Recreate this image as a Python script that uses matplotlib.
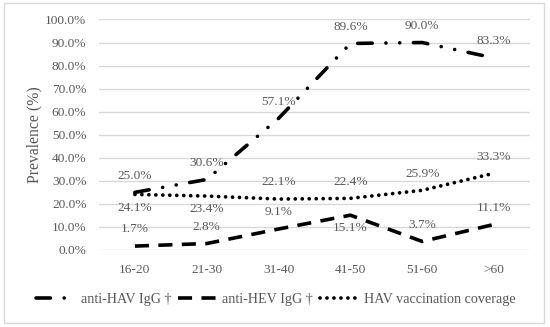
import numpy as np
import matplotlib
matplotlib.use("Agg")
import matplotlib.pyplot as plt
from matplotlib.patches import Rectangle

age_groups = ["16-20", "21-30", "31-40", "41-50", "51-60", ">60"]
anti_hav = [25.0, 30.6, 57.1, 89.6, 90.0, 83.3]
anti_hev = [1.7, 2.8, 9.1, 15.1, 3.7, 11.1]
hav_vacc = [24.1, 23.4, 22.1, 22.4, 25.9, 33.3]

# label above (+1) or below (-1) the point
hav_side = [1, 1, 1, 1, 1, 1]
hev_side = [1, 1, 1, -1, 1, 1]
vacc_side = [-1, -1, 1, 1, 1, 1]

grey = "#595959"
plt.rcParams["font.family"] = ["Liberation Serif", "DejaVu Serif"]
plt.rcParams["font.size"] = 9.6

fig = plt.figure(figsize=(5.5, 3.27), dpi=100)
ax = fig.add_axes([0.18, 0.2355, 0.7836, 0.7049])

xs = np.arange(len(age_groups))
ax.plot(xs, anti_hav, color="black", lw=2.6, dash_capstyle="round",
        linestyle=(0, (4, 3.8, 0.01, 3.8, 0.01, 3.8)), label="anti-HAV IgG †")
ax.plot(xs, anti_hev, color="black", lw=2.6, dash_capstyle="butt",
        linestyle=(0, (3.9, 2.6)), label="anti-HEV IgG †")
ax.plot(xs, hav_vacc, color="black", lw=2.7, dash_capstyle="round",
        linestyle=(0, (0.01, 1.85)), label="HAV vaccination coverage")

for vals, sides in [(anti_hav, hav_side), (anti_hev, hev_side), (hav_vacc, vacc_side)]:
    for i, (v, s) in enumerate(zip(vals, sides)):
        off = 12 if s > 0 else -9.5
        ax.annotate(f"{v:.1f}%", xy=(i, v), xytext=(0, off), textcoords="offset points",
                    ha="center", va="center", color=grey)

ax.set_xlim(-0.5, len(age_groups) - 0.5)
ax.set_ylim(0, 100)
ax.set_yticks(np.arange(0, 101, 10))
ax.set_yticklabels([f"{v:.1f}%" for v in np.arange(0, 101, 10)])
ax.set_xticks(xs)
ax.set_xticklabels(age_groups)
ax.tick_params(length=0, colors=grey, labelsize=9.6)
ax.tick_params(axis="y", pad=9)
ax.tick_params(axis="x", pad=10)
ax.grid(axis="y", color="#d9d9d9", lw=1)
ax.set_axisbelow(True)
for sp in ax.spines.values():
    sp.set_visible(False)
ax.set_ylabel("Prevalence (%)", color=grey, fontsize=11.3, labelpad=2)

fig.legend(loc="center", bbox_to_anchor=(0.502, 0.083), ncol=3, frameon=False,
           handlelength=2.9, handletextpad=0.25, columnspacing=0.45, labelcolor=grey,
           fontsize=10.2)

fig.patches.append(Rectangle((0.008, 0.012), 0.981, 0.978, transform=fig.transFigure,
                             fill=False, edgecolor="#d9d9d9", lw=1))

fig.savefig("out.png", dpi=100)
